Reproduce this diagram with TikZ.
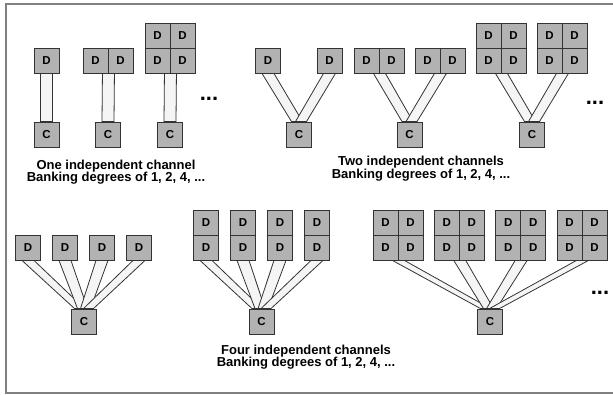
\documentclass[tikz,border=0pt]{standalone}
\usepackage{fontspec}
\setmainfont{Liberation Sans}
\usetikzlibrary{calc}
\pgfdeclarelayer{bg}
\pgfsetlayers{bg,main}
\tikzset{
  dbox/.style={draw=black!80, fill=black!30, line width=0.9pt, minimum size=25pt, inner sep=0pt,
    font=\fontsize{11.5}{12}\selectfont\bfseries},
  stripe/.style={draw=black!80, fill=black!4, line width=0.8pt, line join=miter},
  lbl/.style={align=center, inner sep=0pt, font=\fontsize{13}{12.5}\selectfont\bfseries},
  dots/.style={inner sep=0pt, font=\fontsize{22}{22}\selectfont\bfseries},
  frame/.style={draw=black!50, line width=1.5pt}
}
\newcommand{\stripeDC}[4]{%
  \filldraw[stripe] ($(#1)+(-6,0)$) -- ($(#1)+(6,0)$) -- ($(#2.north)+(#3+#4,0)$) -- ($(#2.north)+(#3-#4,0)$) -- cycle;}
\begin{document}
\begin{tikzpicture}[x=1pt,y=-1pt]
\useasboundingbox (0,0) rectangle (613,394);
\draw[frame] (614,4) -- (6,4) -- (6,393) -- (614,393);

% ---- one channel
\node[dbox] (p1) at (46.5,60.5) {D};
\node[dbox] (pc) at (46.5,134.5) {C};
\node[dbox] (q1) at (95.5,60.5) {D};
\node[dbox] (q2) at (120.5,60.5) {D};
\node[dbox] (qc) at (108,134.5) {C};
\node[dbox] (r1) at (157.5,35.5) {D};
\node[dbox] (r2) at (182.5,35.5) {D};
\node[dbox] (r3) at (157.5,60.5) {D};
\node[dbox] (r4) at (182.5,60.5) {D};
\node[dbox] (rc) at (170,134.5) {C};
\node[dots] (n1) at (209,99) {...};
\begin{pgfonlayer}{bg}
\stripeDC{p1.south}{pc}{0}{6}
\stripeDC{q1.south east}{qc}{0}{6}
\stripeDC{r3.south east}{rc}{0}{6}
\end{pgfonlayer}
\node[lbl] (l1) at (116,172) {One independent channel\\Banking degrees of 1, 2, 4, ...};

% ---- two channels
\node[dbox] (s1) at (268,60.5) {D};
\node[dbox] (s2) at (329.5,60.5) {D};
\node[dbox] (sc) at (299,134.5) {C};
\node[dbox] (t1) at (366.5,60.5) {D};
\node[dbox] (t2) at (391.5,60.5) {D};
\node[dbox] (t3) at (427.5,60.5) {D};
\node[dbox] (t4) at (452.5,60.5) {D};
\node[dbox] (tc) at (409.5,134.5) {C};
\node[dbox] (u1) at (488.5,35.5) {D};
\node[dbox] (u2) at (513.5,35.5) {D};
\node[dbox] (u3) at (488.5,60.5) {D};
\node[dbox] (u4) at (513.5,60.5) {D};
\node[dbox] (u5) at (549.5,35.5) {D};
\node[dbox] (u6) at (574.5,35.5) {D};
\node[dbox] (u7) at (549.5,60.5) {D};
\node[dbox] (u8) at (574.5,60.5) {D};
\node[dbox] (uc) at (532,134.5) {C};
\node[dots] (n2) at (595,103) {...};
\begin{pgfonlayer}{bg}
\stripeDC{s1.south}{sc}{-2}{5.5}
\stripeDC{s2.south}{sc}{2}{5.5}
\stripeDC{t1.south east}{tc}{-2}{5.5}
\stripeDC{t3.south east}{tc}{2}{5.5}
\stripeDC{u3.south east}{uc}{-2}{5.5}
\stripeDC{u7.south east}{uc}{2}{5.5}
\end{pgfonlayer}
\node[lbl] (l2) at (421,168.5) {Two independent channels\\Banking degrees of 1, 2, 4, ...};

% ---- four channels
\foreach \i/\x in {1/28,2/65,3/102,4/139}{
  \node[dbox] (v\i) at (\x,247.5) {D};
}
\node[dbox] (vc) at (84,321.5) {C};
\foreach \i/\x in {1/206,2/243,3/280,4/317}{
  \node[dbox] (w\i) at (\x,222.5) {D};
  \node[dbox] (wb\i) at (\x,247.5) {D};
}
\node[dbox] (wc) at (261.5,321.5) {C};
\foreach \i/\x in {1/373,2/434.3,3/495.7,4/557}{
  \node[dbox] (xa\i) at (\x+12.5,222.5) {D};
  \node[dbox] (xb\i) at (\x+37.5,222.5) {D};
  \node[dbox] (xc\i) at (\x+12.5,247.5) {D};
  \node[dbox] (xd\i) at (\x+37.5,247.5) {D};
}
\node[dbox] (xcc) at (490,321.5) {C};
\node[dots] (n3) at (600,293) {...};
\begin{pgfonlayer}{bg}
\foreach \n/\o in {v1/-4.5,v2/-1.5,v3/1.5,v4/4.5}{
  \stripeDC{\n.south}{vc}{\o}{5}
}
\foreach \n/\o in {wb1/-4.5,wb2/-1.5,wb3/1.5,wb4/4.5}{
  \stripeDC{\n.south}{wc}{\o}{5}
}
\foreach \n/\o in {xc1/-4.5,xc2/-1.5,xc3/1.5,xc4/4.5}{
  \stripeDC{\n.south east}{xcc}{\o}{5}
}
\end{pgfonlayer}
\node[lbl] (l3) at (306,357) {Four independent channels\\Banking degrees of 1, 2, 4, ...};
\end{tikzpicture}
\end{document}
